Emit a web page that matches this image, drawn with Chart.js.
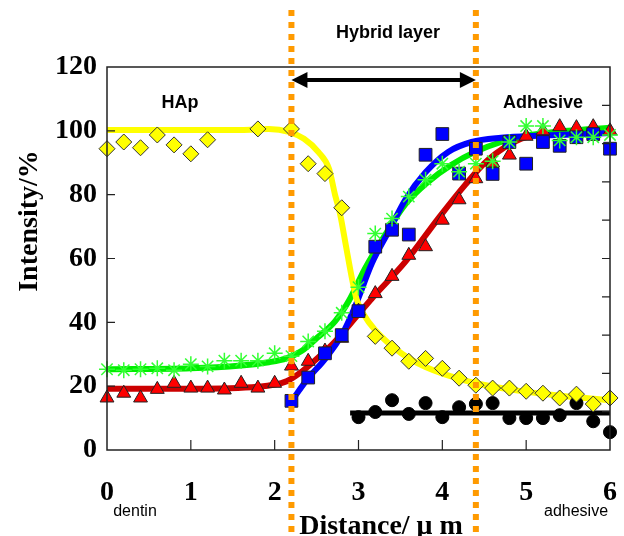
<!DOCTYPE html>
<html>
<head>
<meta charset="utf-8">
<script src="https://cdn.jsdelivr.net/npm/chart.js@4/dist/chart.umd.min.js"></script>
<style>
  body { margin: 0; background: #fff; }
  #wrap { width: 624px; height: 536px; }
</style>
</head>
<body>
<div id="wrap"><canvas id="profile" width="624" height="536"></canvas></div>
<script>
// tick labels
const xTickLabels = ["0", "1", "2", "3", "4", "5", "6"];
const yTickLabels = ["0", "20", "40", "60", "80", "100", "120"];
const rightTicks = [12, 24, 36, 48, 60, 72, 84, 96, 108];
const bottomTicks = [1, 2, 3, 4, 5];
const hybridEdges = [2.2, 4.4];

// measured points
const hapX = [0, 0.2, 0.4, 0.6, 0.8, 1.0, 1.2, 1.8, 2.2, 2.4, 2.6, 2.8, 3.2, 3.4, 3.6, 3.8, 4.0, 4.2, 4.4, 4.6, 4.8, 5.0, 5.2, 5.4, 5.6, 5.8, 6.0];
const hapY = [94.4, 96.5, 94.7, 98.7, 95.6, 92.8, 97.2, 100.6, 100.6, 89.7, 86.6, 75.9, 35.6, 31.9, 27.8, 28.7, 25.6, 22.5, 20.3, 19.4, 19.4, 18.4, 17.8, 16.3, 17.5, 14.4, 16.3];

const fullX = [0, 0.2, 0.4, 0.6, 0.8, 1.0, 1.2, 1.4, 1.6, 1.8, 2.0, 2.2, 2.4, 2.6, 2.8, 3.0, 3.2, 3.4, 3.6, 3.8, 4.0, 4.2, 4.4, 4.6, 4.8, 5.0, 5.2, 5.4, 5.6, 5.8, 6.0];
const redY = [16.3, 17.8, 16.3, 19.0, 20.9, 19.4, 19.4, 18.8, 20.9, 19.4, 20.9, 26.3, 27.8, 31.0, 35.0, 43.5, 49.0, 54.4, 61.0, 63.7, 72.0, 78.4, 85.0, 90.0, 92.4, 98.3, 100.0, 101.3, 101.0, 101.3, 100.0];
const greenY = [25.3, 25.0, 25.3, 25.6, 25.0, 26.9, 26.2, 28.0, 28.0, 28.0, 30.3, 29.4, 34.0, 37.2, 43.0, 51.0, 67.8, 72.5, 79.4, 84.7, 89.7, 87.2, 89.7, 90.5, 96.5, 101.5, 101.5, 97.0, 98.0, 98.0, 98.7];

const blueX = [2.2, 2.4, 2.6, 2.8, 3.0, 3.2, 3.4, 3.6, 3.8, 4.0, 4.2, 4.4, 4.6, 4.8, 5.0, 5.2, 5.4, 5.6, 5.8, 6.0];
const blueY = [15.4, 22.7, 30.3, 36.0, 43.5, 63.7, 69.0, 67.5, 92.5, 99.0, 86.6, 94.4, 86.5, 96.5, 89.7, 96.5, 95.3, 98.0, 99.0, 94.4];

const blackX = [3.0, 3.2, 3.4, 3.6, 3.8, 4.0, 4.2, 4.4, 4.6, 4.8, 5.0, 5.2, 5.4, 5.6, 5.8, 6.0];
const blackY = [10.3, 11.9, 15.6, 11.3, 14.7, 10.3, 13.4, 14.4, 14.7, 10.0, 10.0, 10.0, 10.9, 14.7, 9.0, 5.6];

// fitted curves
const hapFitX = [0, 1.0, 1.6, 1.93, 2.17, 2.35, 2.52, 2.65, 2.72, 2.78, 2.85, 2.92, 2.98, 3.06, 3.2, 3.51, 3.8, 4.31, 4.8, 5.3, 6.0];
const hapFitY = [100.3, 100.3, 100.3, 100.6, 99.7, 97.5, 93.4, 88, 80, 74, 64, 54, 47, 42.5, 37.5, 30.3, 26, 21.5, 19, 17.3, 15.6];
const greenFitX = [0, 1.0, 1.6, 1.93, 2.14, 2.32, 2.5, 2.72, 2.88, 3.08, 3.32, 3.56, 3.83, 4.11, 4.39, 4.7, 5.0, 5.5, 6.0];
const greenFitY = [25.3, 25.6, 26.5, 27.5, 28.7, 31, 35, 40.3, 46.5, 57, 67.5, 77, 84, 89.4, 93.4, 96.5, 98.5, 100, 101];
const blueFitX = [2.2, 2.4, 2.6, 2.8, 2.96, 3.16, 3.36, 3.56, 3.8, 4.07, 4.35, 4.7, 5.2, 6.0];
const blueFitY = [15.3, 22.5, 28.5, 36, 45, 58.5, 68.5, 78.5, 87, 93.4, 96.5, 97.8, 98.5, 99.3];
const redFitX = [0, 1.0, 1.8, 2.14, 2.32, 2.5, 2.72, 2.9, 3.16, 3.56, 3.95, 4.27, 4.55, 4.94, 5.4, 6.0];
const redFitY = [19.2, 19.2, 19.8, 21.5, 24.5, 28.5, 34, 39.5, 47.5, 59, 72.5, 83, 91, 97.5, 99.7, 100.3];
const blackFitX = [2.9, 6.0];
const blackFitY = [11.6, 11.6];

function pts(xs, ys) {
  return xs.map(function (x, i) { return { x: x, y: ys[i] }; });
}

function curve(xs, ys, color, width, order) {
  return {
    data: pts(xs, ys),
    showLine: true,
    borderColor: color,
    borderWidth: width,
    pointRadius: 0,
    cubicInterpolationMode: 'monotone',
    clip: false,
    order: order
  };
}

// orange dotted lines, arrow, texts, inward ticks, frame
const decorations = {
  id: 'decorations',
  afterDatasetsDraw(chart) {
    const c = chart.ctx;
    const a = chart.chartArea;
    const xs = chart.scales.x;
    const ys = chart.scales.y;
    c.save();

    // frame
    c.strokeStyle = '#222';
    c.lineWidth = 1.5;
    c.strokeRect(a.left, a.top, a.right - a.left, a.bottom - a.top);

    // inward ticks
    c.lineWidth = 1.2;
    c.beginPath();
    bottomTicks.forEach(function (v) {
      const px = xs.getPixelForValue(v);
      c.moveTo(px, a.bottom);
      c.lineTo(px, a.bottom - 10);
    });
    [20, 40, 60, 80, 100].forEach(function (v) {
      const py = ys.getPixelForValue(v);
      c.moveTo(a.left, py);
      c.lineTo(a.left + 8, py);
    });
    rightTicks.forEach(function (v) {
      const py = ys.getPixelForValue(v);
      c.moveTo(a.right, py);
      c.lineTo(a.right - 8, py);
    });
    c.stroke();

    // arrow between the hybrid layer edges
    const x1 = xs.getPixelForValue(hybridEdges[0]);
    const x2 = xs.getPixelForValue(hybridEdges[1]);
    const ay = 80;
    c.strokeStyle = '#000';
    c.fillStyle = '#000';
    c.lineWidth = 4;
    c.beginPath();
    c.moveTo(x1 + 12, ay);
    c.lineTo(x2 - 12, ay);
    c.stroke();
    c.beginPath();
    c.moveTo(x1, ay);
    c.lineTo(x1 + 16, ay - 8);
    c.lineTo(x1 + 16, ay + 8);
    c.closePath();
    c.fill();
    c.beginPath();
    c.moveTo(x2, ay);
    c.lineTo(x2 - 16, ay - 8);
    c.lineTo(x2 - 16, ay + 8);
    c.closePath();
    c.fill();

    // orange dotted lines
    c.strokeStyle = '#FF9A00';
    c.lineWidth = 6;
    c.setLineDash([6, 6]);
    hybridEdges.forEach(function (v) {
      const px = xs.getPixelForValue(v);
      c.beginPath();
      c.moveTo(px, 10);
      c.lineTo(px, 536);
      c.stroke();
    });
    c.setLineDash([]);

    // texts
    c.fillStyle = '#000';
    c.textAlign = 'center';
    c.textBaseline = 'middle';
    c.font = 'bold 18px "Liberation Sans", Arial, sans-serif';
    c.fillText('Hybrid layer', 388, 33);
    c.fillText('HAp', 180, 103);
    c.fillText('Adhesive', 543, 103);

    c.font = '16px "Liberation Sans Narrow", "Liberation Sans", sans-serif';
    c.fillText('dentin', 135, 512);
    c.fillText('adhesive', 576, 512);

    c.font = 'bold 28px "Liberation Serif", "Times New Roman", serif';
    c.fillText('Distance/ \u03bc m', 381, 527);

    c.translate(30, 221);
    c.rotate(-Math.PI / 2);
    c.fillText('Intensity/%', 0, 0);
    c.restore();
  }
};

const tickFont = { family: '"Liberation Serif", "Times New Roman", serif', weight: 'bold', size: 28 };

new Chart(document.getElementById('profile'), {
  type: 'scatter',
  data: {
    datasets: [
      curve(redFitX, redFitY, '#CC0000', 6, 10),
      curve(greenFitX, greenFitY, '#00EE00', 6, 9),
      curve(blueFitX, blueFitY, '#0000FF', 6, 8),
      curve(hapFitX, hapFitY, '#FFFF00', 6, 7),
      curve(blackFitX, blackFitY, '#000000', 5, 6),
      {
        data: pts(blackX, blackY),
        pointStyle: 'circle', pointRadius: 6.5,
        backgroundColor: '#000', borderColor: '#000', borderWidth: 1,
        clip: false, order: 5
      },
      {
        data: pts(hapX, hapY),
        pointStyle: 'rectRot', pointRadius: 8,
        backgroundColor: '#FFFF00', borderColor: '#333', borderWidth: 1,
        clip: false, order: 4
      },
      {
        data: pts(fullX, redY),
        pointStyle: 'triangle', pointRadius: 8,
        backgroundColor: '#FF0000', borderColor: '#222', borderWidth: 1,
        clip: false, order: 3
      },
      {
        data: pts(blueX, blueY),
        pointStyle: 'rect', pointRadius: 9,
        backgroundColor: '#0000FF', borderColor: '#222', borderWidth: 1,
        clip: false, order: 2
      },
      {
        data: pts(fullX, greenY),
        pointStyle: 'star', pointRadius: 8,
        backgroundColor: '#33FF33', borderColor: '#33FF33', borderWidth: 1.5,
        clip: false, order: 1
      }
    ]
  },
  options: {
    responsive: false,
    animation: false,
    layout: { padding: { left: 0, right: 14, top: 67, bottom: 0 } },
    plugins: { legend: { display: false }, tooltip: { enabled: false } },
    scales: {
      x: {
        type: 'linear', min: 0, max: 6,
        afterFit: function (s) { s.height = 86; s.paddingLeft = 0; s.paddingRight = 0; },
        ticks: {
          stepSize: 1, color: '#000', font: tickFont, padding: 26, maxRotation: 0,
          callback: function (v) { return xTickLabels[v]; }
        },
        grid: { display: false, drawTicks: false },
        border: { display: false }
      },
      y: {
        min: 0, max: 120,
        afterFit: function (s) { s.width = 107; s.paddingTop = 0; s.paddingBottom = 0; },
        ticks: {
          stepSize: 20, color: '#000', font: tickFont, padding: 10,
          callback: function (v) { return yTickLabels[v / 20]; }
        },
        grid: { display: false, drawTicks: false },
        border: { display: false }
      }
    }
  },
  plugins: [decorations]
});
</script>
</body>
</html>
